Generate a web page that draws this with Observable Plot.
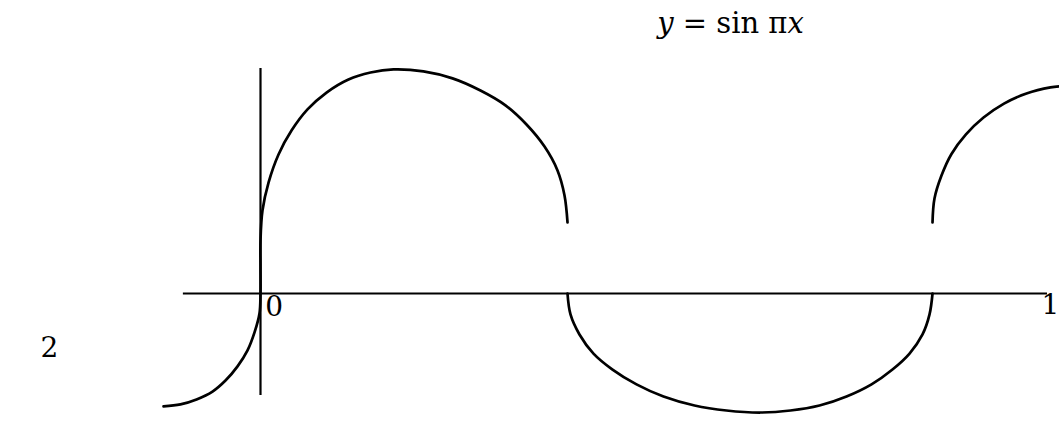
<!DOCTYPE html>
<html>
<head>
<meta charset="utf-8">
<script src="https://cdn.jsdelivr.net/npm/d3@7"></script>
<script src="https://cdn.jsdelivr.net/npm/@observablehq/plot@0.6"></script>
<style>
  html, body { margin: 0; padding: 0; background: #fff; }
  #chart { width: 1059px; height: 424px; }
</style>
</head>
<body>
<div id="chart"></div>
<script>
// Sketch of y = sin πx (chart units)
const leftPieceX = [-0.1232, -0.1017, -0.0813, -0.0610, -0.0445, -0.0292, -0.0165, -0.0076, -0.0013, 0, 0, 0,
  0.0025, 0.0102, 0.0229, 0.0394, 0.0597, 0.0839, 0.1118, 0.1398, 0.1690,
  0.2071, 0.2440, 0.2795, 0.3113, 0.3380, 0.3609, 0.3774, 0.3863, 0.3901];
const leftPieceY = [-0.502, -0.493, -0.471, -0.436, -0.387, -0.324, -0.253, -0.173, -0.089, 0, 0.120, 0.236,
  0.369, 0.493, 0.618, 0.724, 0.818, 0.893, 0.951, 0.982, 0.996,
  0.987, 0.956, 0.902, 0.836, 0.751, 0.653, 0.547, 0.436, 0.316];

const troughX = [0.3901, 0.3939, 0.4053, 0.4231, 0.4473, 0.4778, 0.5121, 0.5515, 0.5921, 0.6353,
  0.6734, 0.7103, 0.7446, 0.7764, 0.8030, 0.8247, 0.8412, 0.8501, 0.8539];
const troughY = [0, -0.093, -0.182, -0.267, -0.338, -0.404, -0.458, -0.498, -0.520, -0.529,
  -0.520, -0.498, -0.458, -0.404, -0.338, -0.267, -0.182, -0.093, 0];

const rightPieceX = [0.8539, 0.8564, 0.8653, 0.8780, 0.8964, 0.9187, 0.9447, 0.9733, 1.0038, 1.0191];
const rightPieceY = [0.316, 0.422, 0.524, 0.620, 0.707, 0.782, 0.844, 0.889, 0.916, 0.922];

const xAxisExtent = [-0.098, 1.0];
const yAxisExtent = [-0.453, 1.0];

const tickLabels = ["0", "1", "2"];
const tickLabelX = [0.006, 1.0150, -0.2795];
const tickLabelY = [-0.098, -0.089, -0.284];
const tickLabelAnchor = ["start", "end", "start"];

const titleText = "y = sin πx";
const titleX = 0.504;
const titleY = 1.156;

const toRows = (xs, ys, seg) => xs.map((x, i) => ({x, y: ys[i], seg}));
const curveRows = [
  ...toRows(leftPieceX, leftPieceY, "a"),
  ...toRows(troughX, troughY, "b"),
  ...toRows(rightPieceX, rightPieceY, "c")
];
const labelRows = tickLabels.map((t, i) => ({t, x: tickLabelX[i], y: tickLabelY[i], a: tickLabelAnchor[i]}));

const font = "DejaVu Serif";

const plot = Plot.plot({
  width: 1059,
  height: 424,
  margin: 0,
  x: {domain: [-260 / 787, 799 / 787], axis: null},
  y: {domain: [(293 - 424) / 225, 293 / 225], axis: null},
  style: {background: "#fff", fontFamily: font},
  marks: [
    Plot.ruleY([0], {x1: xAxisExtent[0], x2: xAxisExtent[1], stroke: "#000", strokeWidth: 2.2}),
    Plot.ruleX([0], {y1: yAxisExtent[0], y2: yAxisExtent[1], stroke: "#000", strokeWidth: 2.2}),
    Plot.line(curveRows, {x: "x", y: "y", z: "seg", curve: "catmull-rom", stroke: "#000", strokeWidth: 2.7}),
    Plot.text(labelRows.filter(d => d.a === "start"), {x: "x", y: "y", text: "t", textAnchor: "start", lineAnchor: "bottom", fontSize: 28, fill: "#000", fontFamily: font}),
    Plot.text(labelRows.filter(d => d.a === "end"), {x: "x", y: "y", text: "t", textAnchor: "end", lineAnchor: "bottom", fontSize: 28, fill: "#000", fontFamily: font}),
    Plot.text([titleText], {x: () => titleX, y: () => titleY, text: d => d, textAnchor: "start", lineAnchor: "bottom", fontSize: 29, fill: "#000", fontFamily: font, className: "title-text"})
  ]
});

d3.select(plot).selectAll(".title-text text").each(function () {
  const el = d3.select(this);
  el.text(null);
  el.append("tspan").attr("font-style", "italic").text("y");
  el.append("tspan").text(" = sin π");
  el.append("tspan").attr("font-style", "italic").text("x");
});

document.getElementById("chart").appendChild(plot);
</script>
</body>
</html>
